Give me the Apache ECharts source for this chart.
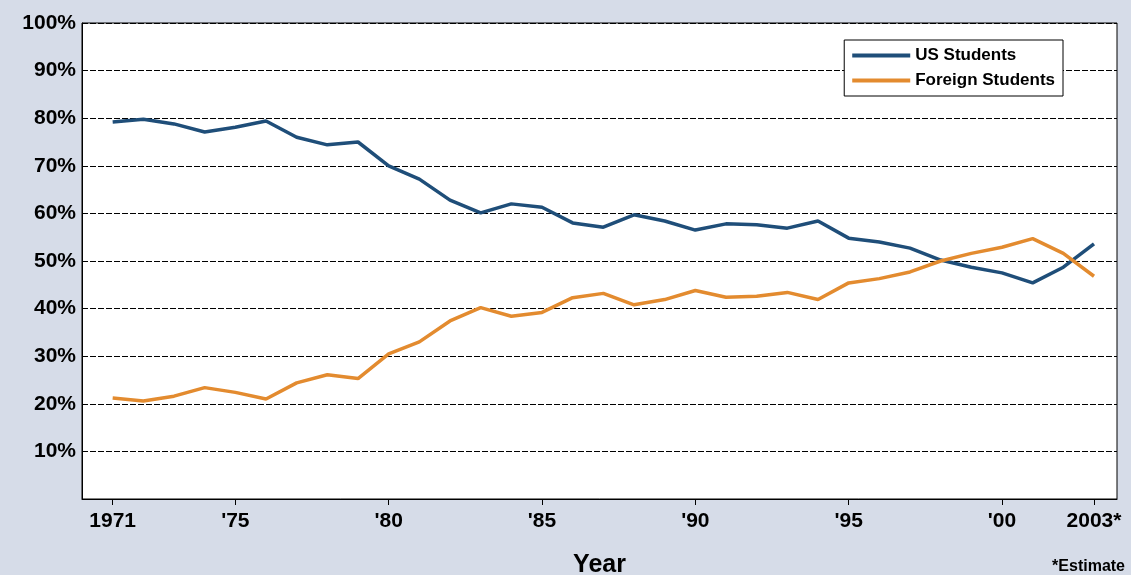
<!DOCTYPE html>
<html><head><meta charset="utf-8">
<script src="https://cdn.jsdelivr.net/npm/echarts@6/dist/echarts.min.js"></script>
<style>html,body{margin:0;background:#d6dce8}#c{width:1131px;height:575px}</style>
</head><body><div id="c"></div>
<script>
const years = [1971,1972,1973,1974,1975,1976,1977,1978,1979,1980,1981,1982,1983,1984,1985,1986,1987,1988,1989,1990,1991,1992,1993,1994,1995,1996,1997,1998,1999,2000,2001,2002,2003]
const usStudents = [79.2,79.8,78.8,77.1,78.1,79.4,76,74.4,75,70,67.2,62.8,60.1,62,61.3,58,57.1,59.7,58.4,56.5,57.8,57.6,56.9,58.4,54.8,54,52.7,50.2,48.7,47.5,45.4,48.7,53.6]
const foreignStudents = [21.2,20.6,21.6,23.4,22.4,21,24.4,26.1,25.3,30.5,33,37.4,40.2,38.4,39.2,42.3,43.2,40.8,41.9,43.8,42.4,42.6,43.4,41.9,45.4,46.3,47.7,50,51.6,52.9,54.7,51.6,46.8]
const tickYears = [1971,1975,1980,1985,1990,1995,2000,2003]
const tickNames = {1971:'1971',1975:"'75",1980:"'80",1985:"'85",1990:"'90",1995:"'95",2000:"'00",2003:'2003*'}

const chart = echarts.init(document.getElementById('c'))
const font = 'Liberation Sans, Arial, sans-serif'
chart.setOption({
  animation: false,
  grid: { left: 82, right: 14, top: 23, bottom: 76, outerBoundsMode: 'none', show: true, backgroundColor: '#fff', borderColor: '#000', borderWidth: 1 },
  legend: {
    right: 68, top: 40, orient: 'vertical', backgroundColor: '#fff', borderColor: '#000', borderWidth: 1,
    padding: [7, 8], itemGap: 8, itemWidth: 58, itemHeight: 4,
    textStyle: { fontFamily: font, fontWeight: 'bold', fontSize: 17, color: '#000' },
    icon: 'rect'
  },
  xAxis: {
    type: 'value', min: 1970, max: 2003.75,
    axisLine: { lineStyle: { color: '#000' } },
    axisTick: { customValues: tickYears, length: 6, lineStyle: { color: '#000' } },
    axisLabel: { customValues: tickYears, formatter: v => tickNames[v] || '', color: '#000', fontFamily: font, fontWeight: 'bold', fontSize: 21, margin: 12 },
    splitLine: { show: false },
    name: 'Year', nameLocation: 'middle', nameGap: 54,
    nameTextStyle: { fontFamily: font, fontWeight: 'bold', fontSize: 25, color: '#000' }
  },
  yAxis: {
    type: 'value', min: 0, max: 100, interval: 10,
    axisLine: { show: true, lineStyle: { color: '#000' } },
    axisTick: { show: false },
    axisLabel: { formatter: v => v === 0 ? '' : v + '%', color: '#000', fontFamily: font, fontWeight: 'bold', fontSize: 21, margin: 6 },
    splitLine: { lineStyle: { color: '#000', type: [6, 2], width: 1 } }
  },
  graphic: [{ type: 'text', right: 6, bottom: 0, style: { text: '*Estimate', fontFamily: font, fontWeight: 'bold', fontSize: 16, fill: '#000' } }],
  series: [
    { name: 'US Students', type: 'line', data: years.map((y, i) => [y, usStudents[i]]), showSymbol: false, lineStyle: { color: '#1f4e79', width: 3.5 }, itemStyle: { color: '#1f4e79' } },
    { name: 'Foreign Students', type: 'line', data: years.map((y, i) => [y, foreignStudents[i]]), showSymbol: false, lineStyle: { color: '#e38b2f', width: 3.5 }, itemStyle: { color: '#e38b2f' } }
  ]
})
</script></body></html>
